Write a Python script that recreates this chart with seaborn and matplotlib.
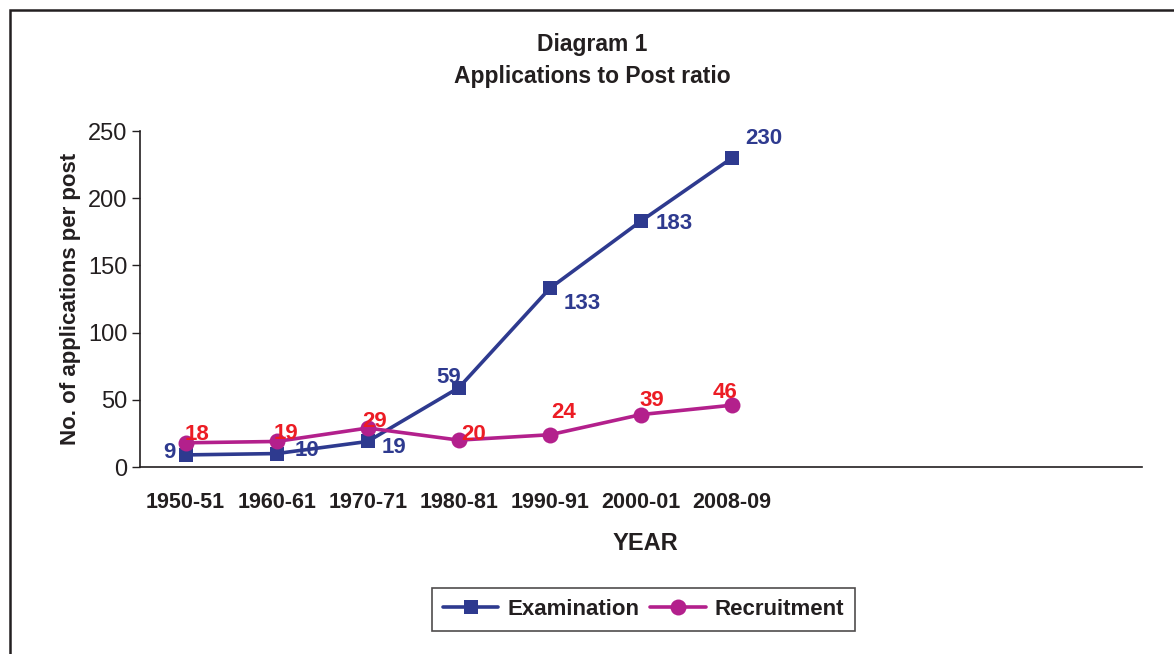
import matplotlib
matplotlib.use("Agg")
import matplotlib.pyplot as plt
import seaborn as sns
import pandas as pd
from matplotlib.patches import Rectangle

years = ["1950-51", "1960-61", "1970-71", "1980-81", "1990-91", "2000-01", "2008-09"]
examination = [9, 10, 19, 59, 133, 183, 230]
recruitment = [18, 19, 29, 20, 24, 39, 46]
n_slots = 11

sns.set_theme(style="white")
plt.rcParams['font.family'] = ['Liberation Sans', 'DejaVu Sans']

BLUE = "#2E3A8F"
MAG = "#B3208C"
RED = "#EC1C24"
INK = "#231F20"

fig = plt.figure(figsize=(11.74, 6.54), dpi=100)
fig.patch.set_facecolor("white")
ax = fig.add_axes([140/1174, 1-467/654, (1142-140)/1174, (467-131)/654])

df = pd.DataFrame({"x": list(range(len(years))) * 2,
                   "value": examination + recruitment,
                   "series": ["Examination"] * len(years) + ["Recruitment"] * len(years)})

sns.lineplot(data=df[df.series == "Examination"], x="x", y="value", ax=ax,
             color=BLUE, lw=2.6, marker="s", markersize=10.5, markeredgewidth=0,
             markerfacecolor=BLUE, label="Examination")
sns.lineplot(data=df[df.series == "Recruitment"], x="x", y="value", ax=ax,
             color=MAG, lw=2.6, marker="o", markersize=11.5, markeredgewidth=0,
             markerfacecolor=MAG, label="Recruitment")

# data labels
exam_off = [(-11.5, 2), (22, 2), (19, -4), (-7, 7), (23, -11), (24, -2), (23, 14)]
rec_off = [(8, 6), (7, 6), (5, 5), (11, 4), (10, 16), (8, 10), (-5, 9)]
for i, v in enumerate(examination):
    ax.annotate(str(v), (i, v), xytext=exam_off[i], textcoords="offset points",
                ha="center", va="center", color=BLUE, fontsize=16, fontweight="bold")
for i, v in enumerate(recruitment):
    ax.annotate(str(v), (i, v), xytext=rec_off[i], textcoords="offset points",
                ha="center", va="center", color=RED, fontsize=16, fontweight="bold")

ax.set_xlim(-0.5, n_slots - 0.5)
ax.set_ylim(0, 250)
ax.set_yticks([0, 50, 100, 150, 200, 250])
ax.set_xticks(range(len(years)))
ax.set_xticklabels(years, fontsize=15.5, fontweight="bold", color=INK)
ax.set_xticks([i - 0.5 for i in range(n_slots + 1)], minor=True)
ax.tick_params(axis="x", which="major", length=0, pad=18)
ax.tick_params(axis="x", which="minor", length=6, width=1, direction="out", color=INK)
ax.tick_params(axis="y", length=6, width=1, direction="out", color=INK,
               labelsize=17, labelcolor=INK, pad=3)
ax.tick_params(axis="both", bottom=True, left=True)
ax.grid(False)
for s in ["top", "right"]:
    ax.spines[s].set_visible(False)
for s in ["left", "bottom"]:
    ax.spines[s].set_color(INK)
    ax.spines[s].set_linewidth(1.2)

ax.set_xlabel("")
ax.set_ylabel("No. of applications per post", fontsize=16, fontweight="bold", color=INK)
ax.yaxis.set_label_coords(-0.059, 0.5)

fig.text(645/1174, 1-543/654, "YEAR", ha="center", va="center",
         fontsize=17, fontweight="bold", color=INK)
fig.text(592/1174, 1-45/654, "Diagram 1", ha="center", va="center",
         fontsize=16.5, fontweight="bold", color=INK)
fig.text(592/1174, 1-76/654, "Applications to Post ratio", ha="center", va="center",
         fontsize=16.5, fontweight="bold", color=INK)

leg = ax.legend(loc="center", bbox_to_anchor=(643.5/1174, 1-609.5/654),
                bbox_transform=fig.transFigure, ncol=2, frameon=True, fancybox=False,
                prop={"weight": "bold", "size": 16}, handlelength=2.5,
                columnspacing=0.5, handletextpad=0.4, borderpad=0.5)
leg.get_frame().set_edgecolor(INK)
leg.get_frame().set_linewidth(1.2)
for t in leg.get_texts():
    t.set_color(INK)

# outer frame
fig.patches.append(Rectangle((10/1174, -0.1), 1.2, (1-10/654) + 0.1,
                             transform=fig.transFigure, fill=False,
                             edgecolor=INK, linewidth=1.8))

fig.savefig("out.png", dpi=100, facecolor="white")
